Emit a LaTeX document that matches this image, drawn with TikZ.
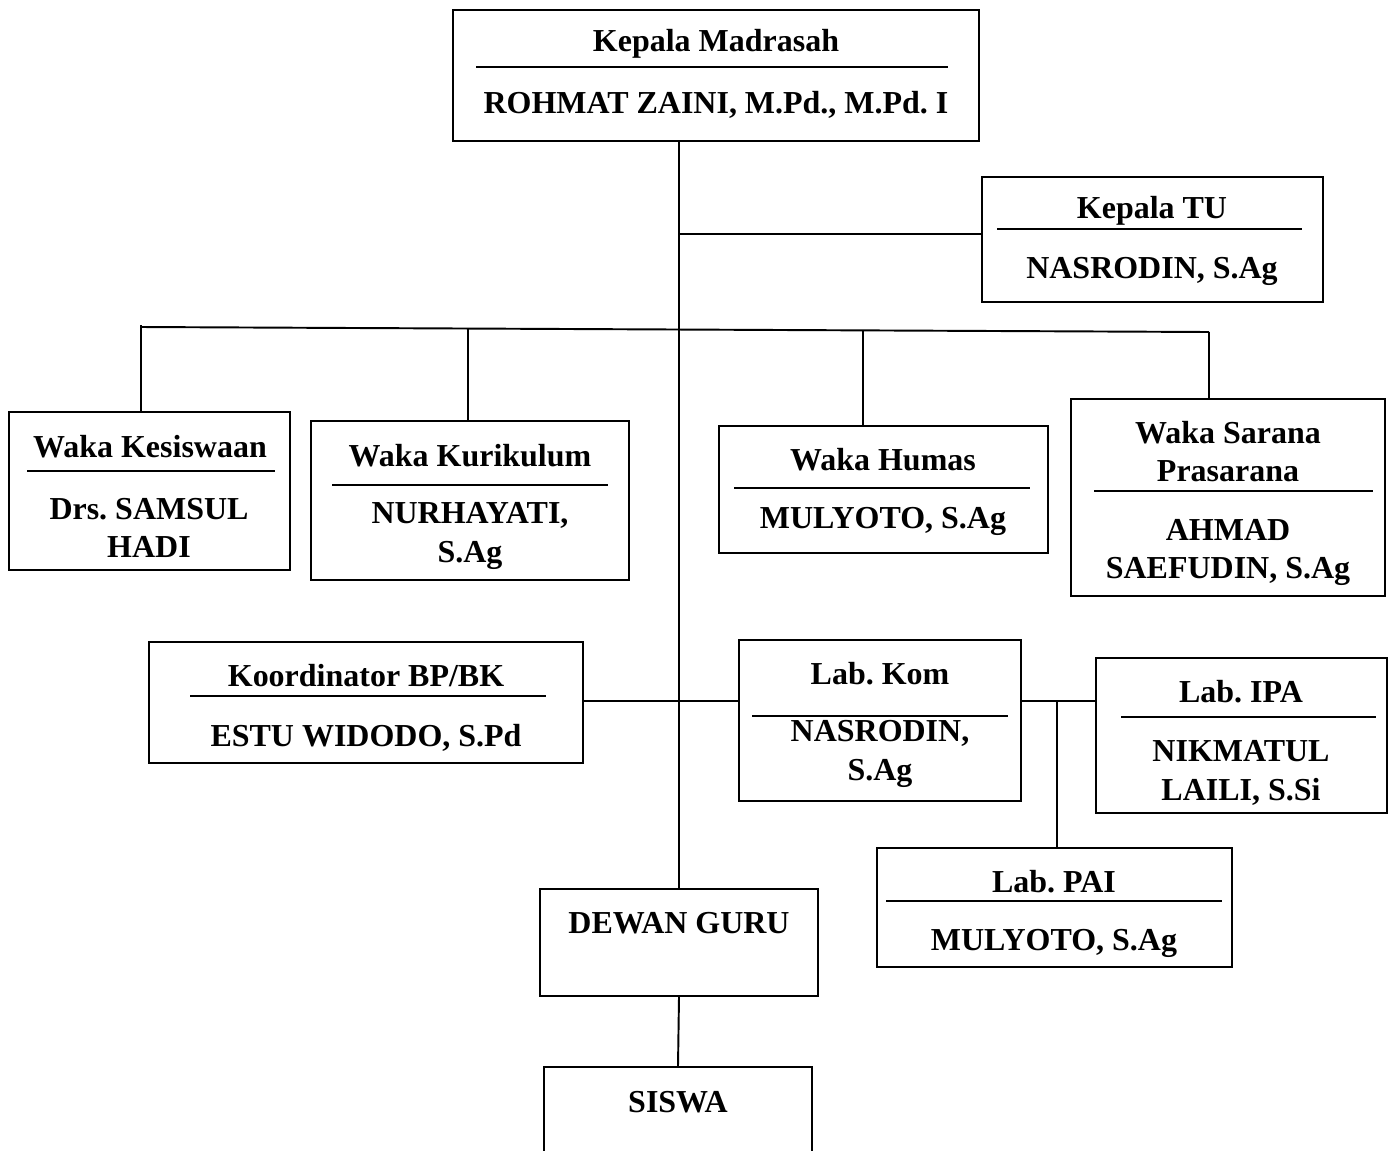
\documentclass[tikz,border=0pt]{standalone}
\usepackage{fontspec}
\setmainfont{Liberation Serif}
\usepackage{tikz}
\frenchspacing

\begin{document}
\begin{tikzpicture}[x=0.02cm, y=-0.02cm, line width=1.1pt,
    box/.style={draw, rectangle, inner sep=0pt},
    txt/.style={font=\bfseries\fontsize{18.2}{22}\selectfont, align=center, inner sep=0pt, yshift=-2pt}]
        \useasboundingbox (0,0) rectangle (1389,1150);
        \clip (0,0) rectangle (1389,1150);

        % boxes
        \node[box, minimum width=10.52cm, minimum height=2.62cm] (kepala) at (716,75.5) {};
        \node[box, minimum width=6.82cm, minimum height=2.5cm] (tu) at (1152.5,239.5) {};
        \node[box, minimum width=5.62cm, minimum height=3.16cm] (kesiswaan) at (149.5,491) {};
        \node[box, minimum width=6.36cm, minimum height=3.18cm] (kurikulum) at (470,500.5) {};
        \node[box, minimum width=6.58cm, minimum height=2.54cm] (humas) at (883.5,489.5) {};
        \node[box, minimum width=6.28cm, minimum height=3.94cm] (sarana) at (1228,497.5) {};
        \node[box, minimum width=8.68cm, minimum height=2.42cm] (bpbk) at (366,702.5) {};
        \node[box, minimum width=5.64cm, minimum height=3.22cm] (labkom) at (880,720.5) {};
        \node[box, minimum width=5.82cm, minimum height=3.1cm] (labipa) at (1241.5,735.5) {};
        \node[box, minimum width=7.1cm, minimum height=2.38cm] (labpai) at (1054.5,907.5) {};
        \node[box, minimum width=5.56cm, minimum height=2.14cm] (dewan) at (679,942.5) {};
        \node[box, minimum width=5.36cm, minimum height=3cm, anchor=north] (siswa) at (678,1066) {};

        % titles, rules and names
        \node[txt] (kepalaT) at (716,40) {Kepala Madrasah};
        \draw (476,67) -- (948,67);
        \node[txt] (kepalaN) at (716,101) {ROHMAT ZAINI, M.Pd., M.Pd. I};

        \node[txt] (tuT) at (1152,207) {Kepala TU};
        \draw (997,229) -- (1302,229);
        \node[txt] (tuN) at (1152,268) {NASRODIN, S.Ag};

        \node[txt] (kesiswaanT) at (150,443) {Waka Kesiswaan};
        \draw (27,471) -- (275,471);
        \node[txt] (kesiswaanN) at (149,524.5) {Drs. SAMSUL\\HADI};

        \node[txt] (kurikulumT) at (470,452) {Waka Kurikulum};
        \draw (332,485) -- (608,485);
        \node[txt] (kurikulumN) at (470,532.5) {NURHAYATI,\\S.Ag};

        \node[txt] (humasT) at (883,456) {Waka Humas};
        \draw (734,488) -- (1030,488);
        \node[txt] (humasN) at (883,518) {MULYOTO, S.Ag};

        \node[txt] (saranaT) at (1228,448) {Waka Sarana\\Prasarana};
        \draw (1094,491) -- (1373,491);
        \node[txt] (saranaN) at (1228,549) {AHMAD\\SAEFUDIN, S.Ag};

        \node[txt] (bpbkT) at (366,672) {Koordinator BP/BK};
        \draw (190,696) -- (546,696);
        \node[txt] (bpbkN) at (366,734) {ESTU WIDODO, S.Pd};

        \node[txt] (labkomT) at (880,670) {Lab. Kom};
        \draw (752,716) -- (1008,716);
        \node[txt] (labkomN) at (880,750.5) {NASRODIN,\\S.Ag};

        \node[txt] (labipaT) at (1241,688) {Lab. IPA};
        \draw (1121,717) -- (1376,717);
        \node[txt] (labipaN) at (1241,769.5) {NIKMATUL\\LAILI, S.Si};

        \node[txt] (labpaiT) at (1054,878) {Lab. PAI};
        \draw (886,901) -- (1222,901);
        \node[txt] (labpaiN) at (1054,940) {MULYOTO, S.Ag};

        \node[txt] (dewanT) at (679,920) {DEWAN GURU};
        \node[txt] (siswaT) at (678,1099) {SISWA};

        % connectors
        \coordinate (tuj) at (679,234);
        \coordinate (busL) at (141,325);
        \coordinate (bus1) at (141,327);
        \coordinate (bus2) at (468,328);
        \coordinate (bus3) at (863,330);
        \coordinate (bus4) at (1209,332);
        \coordinate (row) at (679,701);
        \coordinate (paij) at (1057,701);

        \draw (kepala.south -| dewan.north) -- (dewan.north);
        \draw (tuj) -- (tuj -| tu.west);
        \draw (bus1) -- (bus4);
        \draw (busL) -- (busL |- kesiswaan.north);
        \draw (bus2) -- (bus2 |- kurikulum.north);
        \draw (bus3) -- (bus3 |- humas.north);
        \draw (bus4) -- (bus4 |- sarana.north);
        \draw (row -| bpbk.east) -- (row -| labkom.west);
        \draw (row -| labkom.east) -- (row -| labipa.west);
        \draw (paij) -- (paij |- labpai.north);
        \draw (dewan.south) -- (siswa.north);
\end{tikzpicture}
\end{document}
